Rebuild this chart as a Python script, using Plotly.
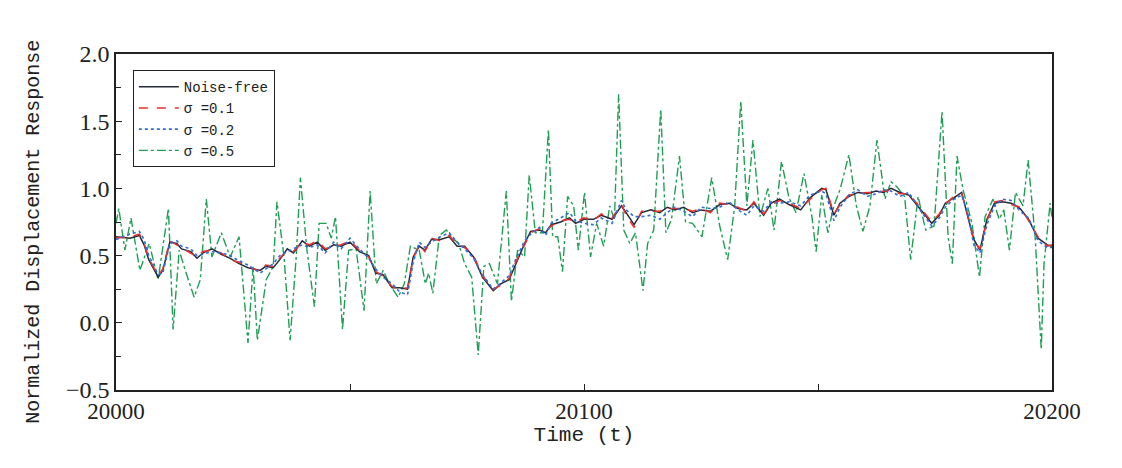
import plotly.graph_objects as go

# ---- data ----
t_clean = [0, 3, 5, 6, 7, 9, 10, 11.5, 13, 14, 16, 17.3, 18.6, 20.5, 22.5, 24.4, 26.3, 28.2, 30.8, 32,
           33.6, 35, 36.6, 37.9, 39.8, 41.3, 43, 44.7, 46.5, 48.1, 50, 52, 54, 55.5, 57, 59, 60.6, 62.3,
           63.5, 64.8, 66, 67.4, 69.3, 71.2, 72.9, 74.5, 76.4, 78.3, 80.6, 82.2, 84, 85.4, 87.3, 88.6,
           90.5, 91.8, 93, 95, 96.9, 98.2, 100, 102, 103.7, 106, 108, 109, 110.7, 112.3, 114.3, 116.2,
           117.8, 119.4, 121.3, 123.2, 125, 127, 129, 131, 132.9, 134.8, 136.3, 138.4, 140, 141.8, 143.8,
           146.3, 148.3, 150.8, 151.7, 153.4, 154.7, 156.6, 158.5, 160.5, 162.4, 164, 165.6, 167.5, 169.4,
           172, 174.3, 175.9, 177.2, 179, 180.7, 182, 183.3, 184.6, 186.1, 187.7, 189.4, 191.3, 193.2,
           195, 197, 199, 200]
y_clean = [0.64, 0.63, 0.65, 0.58, 0.47, 0.34, 0.39, 0.60, 0.59, 0.55, 0.53, 0.48, 0.52, 0.55, 0.51, 0.48,
           0.44, 0.41, 0.39, 0.42, 0.41, 0.47, 0.55, 0.52, 0.61, 0.57, 0.60, 0.54, 0.58, 0.57, 0.60, 0.53,
           0.50, 0.37, 0.36, 0.26, 0.26, 0.25, 0.49, 0.57, 0.54, 0.62, 0.62, 0.64, 0.57, 0.57, 0.49, 0.34,
           0.24, 0.29, 0.32, 0.44, 0.59, 0.68, 0.69, 0.67, 0.73, 0.75, 0.78, 0.74, 0.77, 0.77, 0.80, 0.77,
           0.87, 0.82, 0.73, 0.82, 0.84, 0.82, 0.86, 0.84, 0.86, 0.82, 0.84, 0.83, 0.88, 0.89, 0.85, 0.84,
           0.89, 0.80, 0.89, 0.92, 0.88, 0.84, 0.93, 1.00, 0.99, 0.80, 0.89, 0.94, 0.97, 0.96, 0.98, 0.97,
           1.00, 0.97, 0.95, 0.84, 0.74, 0.80, 0.89, 0.93, 0.97, 0.79, 0.62, 0.54, 0.77, 0.89, 0.90, 0.89,
           0.85, 0.77, 0.63, 0.58, 0.57]
y_s01 = [0.63, 0.64, 0.66, 0.59, 0.48, 0.35, 0.40, 0.61, 0.58, 0.56, 0.52, 0.49, 0.53, 0.54, 0.52, 0.47,
         0.45, 0.42, 0.38, 0.43, 0.42, 0.48, 0.54, 0.53, 0.60, 0.58, 0.61, 0.55, 0.57, 0.58, 0.61, 0.54,
         0.49, 0.38, 0.35, 0.27, 0.25, 0.26, 0.48, 0.58, 0.53, 0.63, 0.61, 0.65, 0.58, 0.56, 0.50, 0.35,
         0.25, 0.28, 0.33, 0.45, 0.58, 0.67, 0.70, 0.68, 0.72, 0.76, 0.77, 0.75, 0.78, 0.76, 0.81, 0.78,
         0.88, 0.80, 0.71, 0.83, 0.83, 0.83, 0.85, 0.85, 0.85, 0.83, 0.85, 0.82, 0.89, 0.88, 0.86, 0.83,
         0.90, 0.81, 0.88, 0.91, 0.89, 0.85, 0.92, 0.99, 1.00, 0.81, 0.88, 0.95, 0.96, 0.97, 0.97, 0.98,
         0.99, 0.96, 0.96, 0.85, 0.75, 0.81, 0.88, 0.94, 0.96, 0.80, 0.61, 0.55, 0.76, 0.90, 0.91, 0.88,
         0.86, 0.76, 0.64, 0.57, 0.58]
y_s02 = [0.62, 0.66, 0.68, 0.62, 0.50, 0.36, 0.37, 0.59, 0.61, 0.57, 0.55, 0.50, 0.51, 0.53, 0.52, 0.50,
         0.46, 0.43, 0.37, 0.40, 0.44, 0.50, 0.53, 0.55, 0.58, 0.56, 0.58, 0.52, 0.60, 0.55, 0.63, 0.55,
         0.48, 0.40, 0.34, 0.29, 0.23, 0.21, 0.45, 0.60, 0.56, 0.60, 0.64, 0.67, 0.60, 0.55, 0.48, 0.36,
         0.25, 0.30, 0.35, 0.47, 0.61, 0.66, 0.71, 0.65, 0.74, 0.78, 0.82, 0.76, 0.74, 0.73, 0.78, 0.74,
         0.91, 0.84, 0.79, 0.79, 0.80, 0.77, 0.82, 0.86, 0.83, 0.79, 0.86, 0.85, 0.86, 0.90, 0.84, 0.80,
         0.87, 0.83, 0.90, 0.89, 0.90, 0.87, 0.95, 0.98, 0.96, 0.76, 0.86, 0.95, 0.99, 0.94, 0.96, 0.99,
         0.98, 0.94, 0.97, 0.83, 0.72, 0.78, 0.86, 0.92, 0.95, 0.82, 0.58, 0.52, 0.73, 0.87, 0.92, 0.91,
         0.83, 0.78, 0.61, 0.56, 0.56]

t_s05 = [0, 0.6, 1.9, 3.2, 5.1, 7.1, 9.0, 11.2, 12.2, 13.5, 14.8, 16.7, 18.0, 19.3, 20.5, 22.5, 24.4,
         26.3, 28.2, 29.3, 30.2, 32.1, 33.6, 34.4, 35.9, 37.2, 38.5, 39.4, 40.8, 42.4, 43.4, 44.9, 46.0,
         46.9, 48.4, 49.7, 51.3, 53.0, 54.3, 55.6, 57.1, 58.4, 60.3, 61.6, 62.9, 64.8, 66.1, 66.8, 67.7,
         69.1, 70.6, 71.9, 73.2, 74.5, 76.0, 77.4, 78.6, 79.8, 81.5, 83.4, 84.5, 85.8, 87.3, 88.3, 89.6,
         91.1, 92.4, 93.3, 94.4, 95.4, 96.5, 97.8, 98.8, 100.1, 101.4, 102.7, 104.2, 105.5, 106.5, 107.4,
         108.5, 109.8, 111.0, 112.6, 113.6, 114.9, 116.4, 117.5, 118.7, 120.4, 121.7, 123.2, 125.2, 126.4,
         127.3, 129.0, 130.7, 132.2, 133.5, 134.8, 136.1, 137.6, 139.3, 140.6, 142.2, 143.8, 145.3, 147.0,
         148.7, 149.6, 150.8, 152.1, 153.4, 154.7, 156.6, 158.2, 159.6, 161.1, 162.6, 164.3, 165.6, 166.9,
         168.5, 169.8, 171.4, 173.0, 174.8, 176.5, 177.8, 178.7, 179.7, 181.0, 182.9, 184.5, 185.7, 187.4,
         188.7, 189.7, 190.9, 192.2, 193.8, 194.9, 196.4, 197.7, 198.3, 199.6, 200]
y_s05 = [0.74, 0.85, 0.54, 0.78, 0.39, 0.59, 0.32, 0.85, -0.05, 0.54, 0.39, 0.19, 0.32, 0.92, 0.49, 0.67,
         0.49, 0.64, -0.15, 0.42, -0.13, 0.32, 0.42, 0.90, 0.49, -0.13, 0.49, 1.08, 0.54, 0.12, 0.74, 0.74,
         0.63, 0.79, -0.05, 0.54, 0.55, 0.09, 0.98, 0.29, 0.39, 0.29, 0.19, 0.29, 0.57, 0.54, 0.29, 0.37,
         0.22, 0.65, 0.69, 0.63, 0.59, 0.44, 0.34, -0.24, 0.42, 0.44, 0.29, 0.98, 0.16, 0.54, 0.49, 1.10,
         0.67, 0.67, 1.44, 0.64, 0.64, 0.38, 0.94, 0.87, 0.54, 0.97, 0.49, 0.74, 0.57, 0.87, 0.77, 1.70,
         0.69, 0.59, 0.67, 0.24, 0.59, 0.69, 1.59, 0.67, 0.77, 1.24, 0.75, 0.74, 0.64, 0.89, 1.08, 0.72,
         0.47, 0.87, 1.65, 0.87, 1.36, 0.79, 1.00, 0.69, 1.20, 0.93, 0.82, 1.11, 0.79, 0.53, 0.95, 0.67,
         0.87, 0.99, 1.25, 0.87, 0.68, 0.87, 1.36, 0.92, 1.05, 1.01, 0.94, 0.47, 0.94, 0.69, 0.72, 1.57,
         0.64, 0.44, 1.24, 0.99, 0.74, 0.34, 0.79, 0.92, 0.77, 0.84, 0.54, 0.97, 0.87, 1.21, 0.64, -0.20,
         0.44, 0.89, 0.78]

t0 = 20000
series_names = ["Noise-free", "σ =0.1", "σ =0.2", "σ =0.5"]
x_ticks = [20000, 20050, 20100, 20150, 20200]
x_labels = ["20000", "", "20100", "", "20200"]
y_ticks = [-0.5, 0.0, 0.5, 1.0, 1.5, 2.0]
y_labels = ["−0.5", "0.0", "0.5", "1.0", "1.5", "2.0"]
y_title = "Normalized Displacement Response"
x_title = "Time (t)"

def tt(lst):
    return [t0 + v for v in lst]

fig = go.Figure()
fig.add_trace(go.Scatter(x=tt(t_s05), y=y_s05, mode="lines", name=series_names[3], legendrank=4,
                         line=dict(color="#1f9e55", width=1.4, dash="dashdot")))
fig.add_trace(go.Scatter(x=tt(t_clean), y=y_clean, mode="lines", name=series_names[0], legendrank=1,
                         line=dict(color="#262a3a", width=1.5)))
fig.add_trace(go.Scatter(x=tt(t_clean), y=y_s01, mode="lines", name=series_names[1], legendrank=2,
                         line=dict(color="#e8302c", width=1.6, dash="dash")))
fig.add_trace(go.Scatter(x=tt(t_clean), y=y_s02, mode="lines", name=series_names[2], legendrank=3,
                         line=dict(color="#2f6fd6", width=1.6, dash="dot")))

fig.add_annotation(text=y_title, xref="paper", yref="paper", x=-0.089, y=0.47,
                   xanchor="center", yanchor="middle", textangle=-90, showarrow=False,
                   font=dict(family="Liberation Mono", size=20, color="#222"))

fig.update_layout(
    width=1106, height=452,
    margin=dict(l=108, r=62, t=46, b=70),
    paper_bgcolor="white", plot_bgcolor="white",
    showlegend=True,
    legend=dict(x=0.018, y=0.952, xanchor="left", yanchor="top",
                bgcolor="white", bordercolor="#222", borderwidth=1,
                font=dict(family="Liberation Mono", size=14, color="#222"),
                tracegroupgap=0, itemwidth=40, traceorder="normal"),
    xaxis=dict(range=[20000, 20200], tickmode="array", tickvals=x_ticks, ticktext=x_labels,
               ticks="inside", ticklen=6, tickcolor="#222", showgrid=False, zeroline=False,
               showline=True, linecolor="#222", linewidth=1.5, mirror=True,
               tickfont=dict(family="Liberation Serif", size=23, color="#222"),
               title=dict(text=x_title, standoff=0,
                          font=dict(family="Liberation Mono", size=21, color="#222"))),
    yaxis=dict(range=[-0.5, 2.0], tickmode="array", tickvals=y_ticks, ticktext=y_labels,
               ticks="inside", ticklen=6, tickcolor="#222", showgrid=False, zeroline=False,
               showline=True, linecolor="#222", linewidth=1.5, mirror=True,
               minor=dict(ticks="inside", ticklen=5, tickcolor="#222", dtick=0.25, tick0=-0.5, showgrid=False),
               tickfont=dict(family="Liberation Serif", size=24, color="#222")),
)

fig.write_html("out.html")
